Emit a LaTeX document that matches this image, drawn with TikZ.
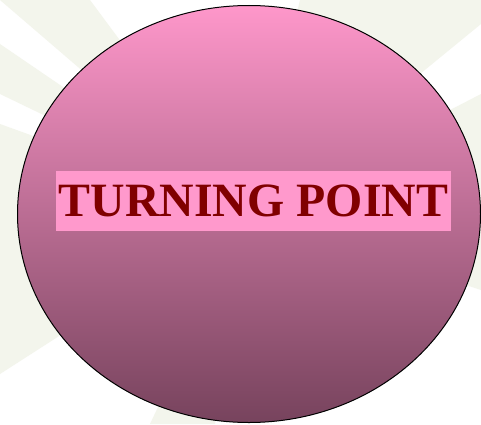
\documentclass[tikz,border=0pt]{standalone}
\usepackage{fontspec}
\setmainfont{Liberation Serif}
\definecolor{bgray}{HTML}{F3F5EC}
\definecolor{pinktop}{HTML}{FE97CA}
\definecolor{pinkmid}{HTML}{DE86B2}
\definecolor{pinkbot}{HTML}{77435D}
\definecolor{labelbg}{HTML}{FF99CC}
\definecolor{labeltxt}{HTML}{800000}
\tikzset{
  ray/.style={fill=bgray, draw=none},
  bubble/.style={draw=black, line width=1pt, top color=pinktop, middle color=pinkmid, bottom color=pinkbot},
  label box/.style={fill=labelbg, text=labeltxt, inner sep=0pt, minimum width=395pt, minimum height=60pt, font=\fontsize{47.8}{50}\selectfont\bfseries}
}
\begin{document}
\begin{tikzpicture}[x=1pt,y=1pt]
\useasboundingbox (0,0) rectangle (481,424);
\fill[white] (0,0) rectangle (481,424);
\coordinate (c) at (249,210);
% faint background rays
\fill[ray] (c) -- (0,424) -- (90,424) -- cycle;
\fill[ray] (c) -- (0,380) -- (0,330) -- cycle;
\fill[ray] (c) -- (0,300) -- (0,50) -- cycle;
\fill[ray] (c) -- (150,0) -- (215,0) -- cycle;
\fill[ray] (c) -- (481,330) -- (481,134) -- cycle;
\fill[ray] (c) -- (300,424) -- (481,424) -- (481,400) -- cycle;
% the ellipse
\draw[bubble] (c) ellipse [x radius=231.5, y radius=208.5];
\node[label box] (tp) at (253.5,223) {TURNING POINT};
\end{tikzpicture}
\end{document}
